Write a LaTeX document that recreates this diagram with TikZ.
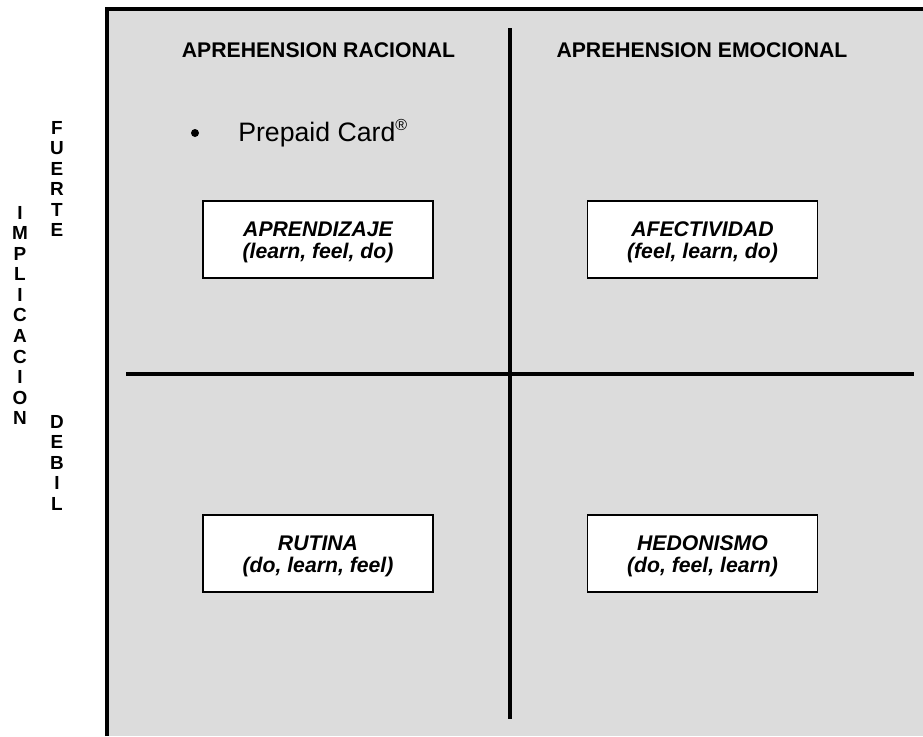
\documentclass[tikz,border=0pt]{standalone}
\usepackage{fontspec}
\setmainfont{Liberation Sans}
\definecolor{panel}{RGB}{220,220,220}
% two-line quadrant caption, set a little below the box centre
\newcommand{\quadtext}[2]{\raisebox{-2.5pt}[\height][\depth]{\begin{tabular}{@{}c@{}}#1\\#2\end{tabular}}}
\begin{document}
\begin{tikzpicture}[x=0.75pt,y=-0.75pt,
  frame/.style={line width=3pt,line join=miter},
  divider/.style={line width=3pt},
  header/.style={font=\bfseries\fontsize{15.9}{18}\selectfont,inner sep=0pt},
  quadbox/.style={draw,fill=white,line width=1.3pt,inner sep=0pt,
    minimum width=172.5pt,minimum height=57.75pt,align=center,
    font=\bfseries\itshape\fontsize{15.9}{16.5}\selectfont},
  axislabel/.style={font=\bfseries\fontsize{14.2}{15.4}\selectfont,
    align=center,inner sep=0pt,anchor=north}]
\useasboundingbox (0,0) rectangle (923,736);

% shaded panel with its top and left edges
\fill[panel] (107,9) rectangle (923,736);
\draw[frame] (107,736) -- (107,9) -- (923,9);

% quadrant dividers
\coordinate (vtop) at (510,28);
\coordinate (vbot) at (510,719);
\coordinate (hleft) at (126,374);
\coordinate (hright) at (914,374);
\draw[divider] (vtop) -- (vbot);
\draw[divider] (hleft) -- (hright);

% column headings
\node[header,anchor=base] (hrac) at (318.5,57) {APREHENSION RACIONAL};
\node[header,anchor=base] (hemo) at (702,57) {APREHENSION EMOCIONAL};

% example item
\node[circle,fill=black,inner sep=0pt,minimum size=6pt] (dot) at (195,133) {};
\node[font=\fontsize{20}{24}\selectfont,inner sep=0pt,anchor=base west] (card)
  at (238,141) {Prepaid Card\textsuperscript{\fontsize{12}{14}\selectfont ®}};

% quadrants
\node[quadbox] (aprend) at (318,239.5) {\quadtext{APRENDIZAJE}{(learn, feel, do)}};
\node[quadbox] (afect) at (702.5,239.5) {\quadtext{AFECTIVIDAD}{(feel, learn, do)}};
\node[quadbox] (rutina) at (318,553.5) {\quadtext{RUTINA}{(do, learn, feel)}};
\node[quadbox] (hedon) at (702.5,553.5) {\quadtext{HEDONISMO}{(do, feel, learn)}};

% vertical axis labels
\node[axislabel] (impl) at (20,206) {I\\M\\P\\L\\I\\C\\A\\C\\I\\O\\N};
\node[axislabel] (fuerte) at (57,121) {F\\U\\E\\R\\T\\E};
\node[axislabel] (debil) at (57,415) {D\\E\\B\\I\\L};
\end{tikzpicture}
\end{document}
